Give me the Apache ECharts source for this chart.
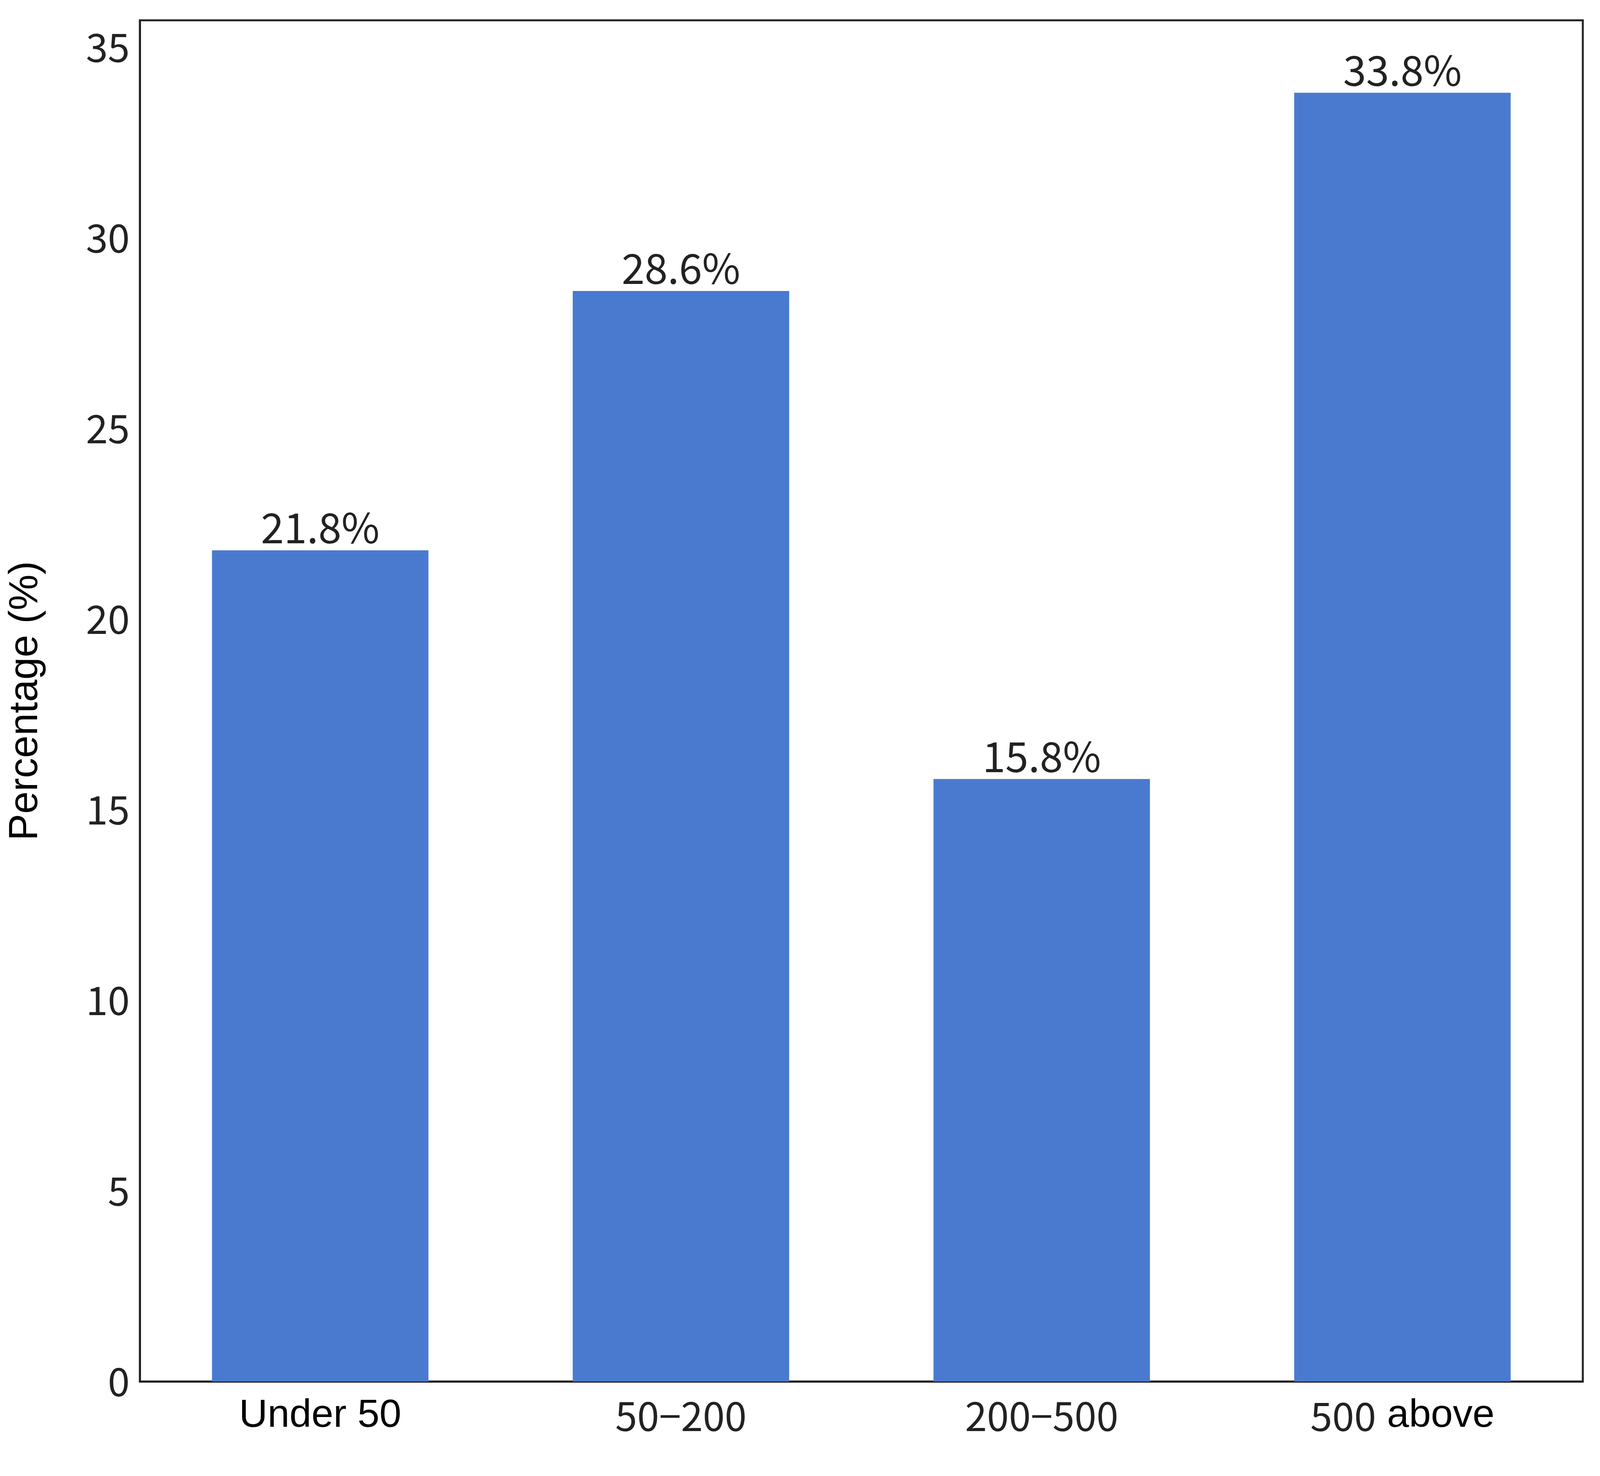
<!DOCTYPE html>
<html>
<head>
<meta charset="utf-8">
<script src="https://cdn.jsdelivr.net/npm/echarts@6/dist/echarts.min.js"></script>
<style>html,body{margin:0;padding:0;background:#fff;overflow:hidden}#main{width:100vw;height:100vh}</style>
</head>
<body>
<div id="main"></div>
<script>
var categories = ['Under 50', '50\u2212200', '200\u2212500', '500 above'];
var values = [21.8, 28.6, 15.8, 33.8];
var yTicks = [0, 5, 10, 15, 20, 25, 30, 35];

var cjk = '"Noto Sans CJK SC", sans-serif';
var arial = '"Liberation Sans", Arial, sans-serif';

// scale everything to the actual viewport (designed for 6388 wide)
var s = window.innerWidth / 6388;
function px(v) { return Math.round(v * s); }

var myChart = echarts.init(document.getElementById('main'));
var option = {
    backgroundColor: '#fff',
    animation: false,
    grid: {
        left: px(558), right: px(69), top: px(81), bottom: px(377),
        show: true, borderColor: '#222', borderWidth: Math.max(1, px(8))
    },
    xAxis: {
        type: 'category',
        data: categories,
        axisLine: { lineStyle: { color: '#222', width: Math.max(1, px(8)) } },
        axisTick: { show: false },
        axisLabel: {
            margin: px(60),
            formatter: function (v) {
                if (v === 'Under 50') return '{a|Under 50}';
                if (v === '500 above') return '{c|500}{a| above}';
                return '{c|' + v + '}';
            },
            rich: {
                a: { fontFamily: arial, fontSize: px(158), color: '#000' },
                c: { fontFamily: cjk, fontSize: px(158), color: '#222' }
            }
        }
    },
    yAxis: {
        type: 'value',
        min: 0,
        max: 35.7,
        interval: 5,
        name: 'Percentage (%)',
        nameLocation: 'middle',
        nameGap: px(375),
        nameTextStyle: { fontFamily: arial, fontSize: px(160), color: '#000' },
        axisLine: { show: true, lineStyle: { color: '#222', width: Math.max(1, px(8)) } },
        axisTick: { show: false },
        splitLine: { show: false },
        axisLabel: {
            margin: px(40),
            fontFamily: cjk, fontSize: px(158), color: '#222',
            formatter: function (v) { return yTicks.indexOf(v) >= 0 ? String(v) : ''; }
        }
    },
    series: [{
        type: 'bar',
        data: values,
        barWidth: '60%',
        itemStyle: { color: '#4a7acf' },
        label: {
            show: true,
            position: 'top',
            distance: px(8),
            fontFamily: cjk, fontSize: px(165), color: '#222',
            formatter: function (p) { return p.value.toFixed(1) + '%'; }
        }
    }]
};
myChart.setOption(option);
</script>
</body>
</html>
